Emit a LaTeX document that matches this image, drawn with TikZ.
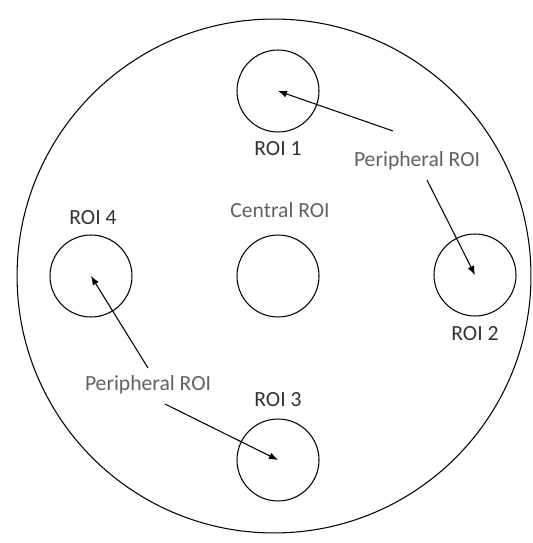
\documentclass[tikz,border=0pt]{standalone}
\usepackage{fontspec}
\setmainfont{Carlito}
\usetikzlibrary{arrows.meta}

\begin{document}
\begin{tikzpicture}[
x=0.02cm,y=-0.02cm,
roi/.style={circle,draw,line width=0.6pt,minimum size=1.64cm,inner sep=0pt},
lab/.style={font=\fontsize{12.3}{14}\selectfont,text=black!80,inner sep=1pt},
plab/.style={lab,text=black!62},
pointer/.style={line width=0.6pt,-{Latex[length=1.8mm,width=1.4mm]}}
]
\useasboundingbox (0,0) rectangle (532,543);

% phantom outline
\node[circle,draw,line width=0.6pt,minimum size=10.28cm,inner sep=0pt] (phantom) at (274,276) {};

% regions of interest
\node[roi] (r1) at (278,91) {};
\node[roi] (r2) at (475,275) {};
\node[roi] (r3) at (278,460) {};
\node[roi] (r4) at (91,276) {};
\node[roi] (rc) at (278,276) {};

% labels
\node[lab] (l1) at (278,149) {ROI 1};
\node[lab] (l2) at (475,334) {ROI 2};
\node[lab] (l3) at (278,400) {ROI 3};
\node[lab] (l4) at (93,218) {ROI 4};
\node[plab] (lc) at (280,210) {Central ROI};
\node[plab] (pa) at (417,161) {Peripheral ROI};
\node[plab] (pb) at (148,385) {Peripheral ROI};

% arrow start points
\coordinate (a1) at (393,131);
\coordinate (a2) at (427,180);
\coordinate (a3) at (148,368);
\coordinate (a4) at (165,404);

\draw[pointer] (a1) -- (r1.center);
\draw[pointer] (a2) -- (r2.center);
\draw[pointer] (a3) -- (r4.center);
\draw[pointer] (a4) -- (r3.center);

\end{tikzpicture}
\end{document}
